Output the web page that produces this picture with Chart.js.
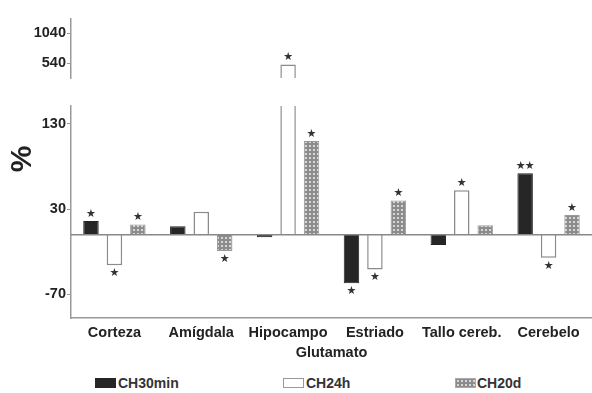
<!DOCTYPE html>
<html lang="es">
<head>
<meta charset="UTF-8">
<title>Glutamato</title>
<script src="https://cdn.jsdelivr.net/npm/chart.js"></script>
<style>
  body { margin: 0; background: #fff; }
  #wrap { position: relative; width: 592px; height: 393px; font-family: "Liberation Sans", Arial, sans-serif; }
  #top { position: absolute; left: 0; top: 0; }
  #bottom { position: absolute; left: 0; top: 96px; }
  #pct { position: absolute; left: 6px; top: 142px; width: 30px; height: 34px; line-height: 34px;
         font-size: 30px; font-weight: bold; color: #222; text-align: center; transform: rotate(-90deg); }
  .sw { position: absolute; top: 378px; width: 21px; height: 10px; box-sizing: border-box; }
  .lt { position: absolute; top: 375px; font-size: 14px; font-weight: bold; color: #333; line-height: 16px; }
</style>
</head>
<body>
<div id="wrap">
  <canvas id="top" width="592" height="92"></canvas>
  <canvas id="bottom" width="592" height="268"></canvas>
  <div id="pct">%</div>
  <div class="sw" id="sw30" style="left:95px;background:#262626;"></div>
  <div class="lt" style="left:118px;">CH30min</div>
  <div class="sw" id="sw24" style="left:283px;background:#fff;border:1px solid #999;"></div>
  <div class="lt" style="left:306px;">CH24h</div>
  <div class="sw" id="sw20" style="left:455px;border:1px solid #aaa;"></div>
  <div class="lt" style="left:477px;">CH20d</div>
</div>
<script>
// data
const regiones = ['Corteza', 'Amígdala', 'Hipocampo', 'Estriado', 'Tallo cereb.', 'Cerebelo'];
const ch30min = [16, 10, -3, -57, -12, 72];
const ch24h = [-36, 27, 520, -41, 52, -27];
const ch20d = [12, -19, 110, 40, 11, 23];
// number of stars above / below each bar
const sig30min = [1, 0, 0, 1, 0, 2];
const sig24h = [1, 0, 1, 1, 1, 1];
const sig20d = [1, 1, 1, 1, 0, 1];
// broken axis: upper and lower parts
const ticksUpper = [540, 1040];
const ticksLower = [-70, 30, 130];
const rangeUpper = [298, 1273];
const rangeLower = [-98, 151];

const FONT = '"Liberation Sans", Arial, sans-serif';

// dotted grey fill for CH20d
const pc = document.createElement('canvas');
pc.width = 4; pc.height = 4;
const pg = pc.getContext('2d');
pg.fillStyle = '#8c8c8c'; pg.fillRect(0, 0, 4, 4);
pg.fillStyle = '#d6d6d6'; pg.fillRect(1, 1, 2, 2);
const dots = pg.createPattern(pc, 'repeat');
document.getElementById('sw20').style.backgroundImage = 'url(' + pc.toDataURL() + ')';

function makeDatasets() {
  return [
    { label: 'CH30min', data: ch30min, sig: sig30min, backgroundColor: '#262626', borderColor: '#222', borderWidth: 1 },
    { label: 'CH24h', data: ch24h, sig: sig24h, backgroundColor: '#ffffff', borderColor: '#8a8a8a', borderWidth: 1.5 },
    { label: 'CH20d', data: ch20d, sig: sig20d, backgroundColor: dots, borderColor: '#999', borderWidth: 1 }
  ].map(d => Object.assign(d, { categoryPercentage: 0.81, barPercentage: 0.66, clip: 0 }));
}

const starsPlugin = {
  id: 'stars',
  afterDatasetsDraw(chart) {
    const ctx = chart.ctx;
    const ys = chart.scales.y;
    ctx.save();
    ctx.fillStyle = '#333';
    ctx.font = '11px "DejaVu Sans"';
    ctx.textAlign = 'center';
    ctx.textBaseline = 'middle';
    chart.data.datasets.forEach((ds, i) => {
      chart.getDatasetMeta(i).data.forEach((bar, j) => {
        const v = ds.data[j];
        const n = ds.sig[j];
        if (!n || v < ys.min || v > ys.max) return;
        const y = v >= 0 ? bar.y - 7 : bar.y + 8;
        for (let k = 0; k < n; k++) {
          ctx.fillText('★', bar.x + (k - (n - 1) / 2) * 9, y);
        }
      });
    });
    ctx.restore();
  }
};

const zeroLine = {
  id: 'zeroLine',
  afterDatasetsDraw(chart) {
    const ys = chart.scales.y;
    if (0 < ys.min || 0 > ys.max) return;
    const a = chart.chartArea;
    const y = ys.getPixelForValue(0);
    const ctx = chart.ctx;
    ctx.save();
    ctx.strokeStyle = '#888';
    ctx.lineWidth = 1.5;
    ctx.beginPath();
    ctx.moveTo(a.left, y);
    ctx.lineTo(a.right, y);
    ctx.stroke();
    ctx.restore();
  }
};

function yAxis(range, tickVals) {
  return {
    min: range[0], max: range[1],
    afterBuildTicks: s => { s.ticks = tickVals.map(v => ({ value: v })); },
    afterFit: s => { s.width = 71; },
    grid: { drawOnChartArea: false, tickLength: 4, color: '#999', lineWidth: 1 },
    border: { color: '#999', width: 1.5 },
    ticks: { font: { family: FONT, size: 14.5, weight: 'bold' }, color: '#222', padding: 1, callback: v => String(v) }
  };
}

new Chart(document.getElementById('top'), {
  type: 'bar',
  data: { labels: regiones, datasets: makeDatasets() },
  options: {
    responsive: false, animation: false,
    layout: { padding: { top: 19, bottom: 14, left: 0, right: 0 } },
    plugins: { legend: { display: false }, tooltip: { enabled: false } },
    scales: {
      x: { display: false },
      y: yAxis(rangeUpper, ticksUpper)
    }
  },
  plugins: [starsPlugin]
});

new Chart(document.getElementById('bottom'), {
  type: 'bar',
  data: { labels: regiones, datasets: makeDatasets() },
  options: {
    responsive: false, animation: false,
    layout: { padding: { top: 10, bottom: 0, left: 0, right: 0 } },
    plugins: { legend: { display: false }, tooltip: { enabled: false } },
    scales: {
      x: {
        grid: { display: false, tickLength: 0 },
        border: { color: '#999', width: 1.5 },
        ticks: { font: { family: FONT, size: 14.5, weight: 'bold' }, color: '#222', padding: 6, maxRotation: 0, autoSkip: false },
        title: { display: true, text: 'Glutamato', font: { family: FONT, size: 14.5, weight: 'bold' }, color: '#222', padding: { top: -3, bottom: 2 } }
      },
      y: yAxis(rangeLower, ticksLower)
    }
  },
  plugins: [zeroLine, starsPlugin]
});
</script>
</body>
</html>
